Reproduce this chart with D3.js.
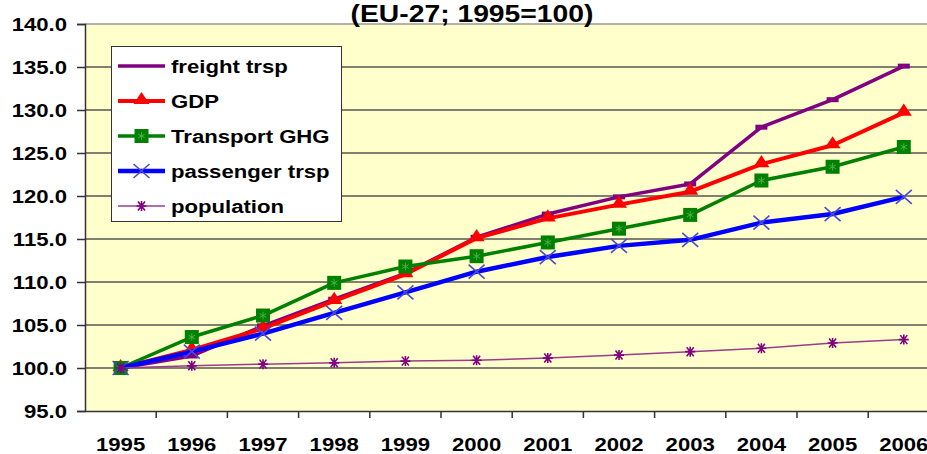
<!DOCTYPE html>
<html>
<head>
<meta charset="utf-8">
<script src="https://cdnjs.cloudflare.com/ajax/libs/d3/7.8.5/d3.min.js"></script>
<style>
	body { margin: 0; background: #fff; }
	text { font-family: 'Liberation Sans', Arial, sans-serif; font-weight: bold; fill: #000; }
</style>
</head>
<body>
<div id="chart"></div>
<script>
let years = ['1995', '1996', '1997', '1998', '1999', '2000', '2001', '2002', '2003', '2004', '2005', '2006'];
let freight = [100, 101.4, 104.9, 108.0, 111.0, 115.2, 117.9, 119.9, 121.4, 128.0, 131.2, 135.1];
let gdp = [100, 102.1, 104.6, 107.8, 110.9, 115.1, 117.4, 119.0, 120.5, 123.7, 125.9, 129.7];
let ghg = [100, 103.6, 106.1, 109.9, 111.8, 113.0, 114.6, 116.2, 117.8, 121.8, 123.4, 125.7];
let passenger = [100, 101.9, 104.0, 106.4, 108.8, 111.2, 112.9, 114.2, 114.9, 116.9, 117.9, 119.9];
let population = [100, 100.25, 100.45, 100.6, 100.8, 100.9, 101.15, 101.5, 101.9, 102.3, 102.9, 103.3];
let yTicks = [95, 100, 105, 110, 115, 120, 125, 130, 135, 140];
let title = '(EU-27; 1995=100)';

let width = 927,
	height = 454;
// the picture is stretched sideways, so text gets stretched too
let stretch = 1.23;

let series = [
	{ name: 'freight trsp', values: freight, color: '#800080', lineWidth: 3.5, marker: 'dash' },
	{ name: 'GDP', values: gdp, color: '#ff0000', lineWidth: 4, marker: 'triangle' },
	{ name: 'Transport GHG', values: ghg, color: '#008000', lineWidth: 3.5, marker: 'square' },
	{ name: 'passenger trsp', values: passenger, color: '#0000ff', lineWidth: 4.5, marker: 'cross' },
	{ name: 'population', values: population, color: '#9a3c8c', lineWidth: 1.5, marker: 'star' },
];

let svg = d3.select('#chart').append('svg').attr('width', width).attr('height', height);
svg.append('rect').attr('width', width).attr('height', height).attr('fill', '#fff');

let x = d3.scaleBand().domain(years).range([85, 85 + 12 * 71.2]).padding(0);
let y = d3.scaleLinear().domain([95, 140]).range([411, 24]);
let cx = (d) => x(d) + x.bandwidth() / 2;

function stretchedText(g, tx, ty, str, size, anchor) {
	return g
		.append('text')
		.attr('transform', 'translate(' + tx + ',' + ty + ') scale(' + stretch + ',1)')
		.attr('text-anchor', anchor)
		.style('font-size', size + 'px')
		.text(str);
}

function drawMarker(g, type, px, py, color) {
	if (type == 'triangle') {
		g.append('path')
			.attr('d', d3.symbol().type(d3.symbolTriangle).size(85)())
			.attr('transform', 'translate(' + px + ',' + (py - 1) + ') scale(1.15,1)')
			.attr('fill', color);
	} else if (type == 'square') {
		g.append('rect')
			.attr('x', px - 7)
			.attr('y', py - 7)
			.attr('width', 14)
			.attr('height', 14)
			.attr('fill', color);
		g.append('path')
			.attr('d', d3.symbol().type(d3.symbolAsterisk).size(40)())
			.attr('transform', 'translate(' + px + ',' + py + ')')
			.attr('stroke', '#4caf4c')
			.attr('stroke-width', 1)
			.attr('fill', 'none');
	} else if (type == 'cross') {
		g.append('path')
			.attr('d', 'M-8,-7L8,7M-8,7L8,-7')
			.attr('transform', 'translate(' + px + ',' + py + ')')
			.attr('stroke', '#4b4bd2')
			.attr('stroke-width', 1.6)
			.attr('fill', 'none');
	} else if (type == 'star') {
		g.append('path')
			.attr('d', 'M-5,0L5,0M-3.5,-4.5L3.5,4.5M-3.5,4.5L3.5,-4.5M0,-5L0,5')
			.attr('transform', 'translate(' + px + ',' + py + ')')
			.attr('stroke', '#800080')
			.attr('stroke-width', 1.6)
			.attr('fill', 'none');
	} else if (type == 'dash') {
		g.append('rect')
			.attr('x', px - 6)
			.attr('y', py - 2.5)
			.attr('width', 12)
			.attr('height', 5)
			.attr('fill', color);
	}
}

// plot area
svg.append('rect')
	.attr('x', 85)
	.attr('y', y(140))
	.attr('width', x.range()[1] - 85)
	.attr('height', y(95) - y(140))
	.attr('fill', '#ffffcc');

svg.selectAll('.grid')
	.data(yTicks.filter((d) => d > 95))
	.enter()
	.append('line')
	.attr('x1', 85)
	.attr('x2', x.range()[1])
	.attr('y1', (d) => y(d))
	.attr('y2', (d) => y(d))
	.attr('stroke', (d) => (d == 140 ? '#999' : '#555'))
	.attr('stroke-width', 1.5);

// axes
let yAxis = svg
	.append('g')
	.attr('transform', 'translate(85,0)')
	.call(d3.axisLeft(y).tickValues(yTicks).tickSize(8).tickFormat(''));
let xAxis = svg
	.append('g')
	.attr('transform', 'translate(0,411)')
	.call(d3.axisBottom(x).tickSize(0).tickFormat(''));
xAxis
	.selectAll('.bound')
	.data(years.slice(1))
	.enter()
	.append('line')
	.attr('x1', (d) => x(d))
	.attr('x2', (d) => x(d))
	.attr('y1', 0)
	.attr('y2', 7);
[yAxis, xAxis].forEach((a) => {
	a.selectAll('path, line').attr('stroke', '#333').attr('stroke-width', 1.5);
});

yTicks.forEach((t) => stretchedText(svg, 67, y(t) + 6.5, t.toFixed(1), 18, 'end'));
years.forEach((yr) => stretchedText(svg, cx(yr), 451, yr, 18, 'middle'));

stretchedText(svg, 472, 22, title, 23, 'middle');

// lines and markers
let line = d3
	.line()
	.x((d, i) => cx(years[i]))
	.y((d) => y(d));

series.forEach((s) => {
	let g = svg.append('g');
	g.append('path')
		.datum(s.values)
		.attr('d', line)
		.attr('fill', 'none')
		.attr('stroke', s.color)
		.attr('stroke-width', s.lineWidth)
		.attr('stroke-linejoin', 'round');
	s.values.forEach((v, i) => drawMarker(g, s.marker, cx(years[i]), y(v), s.color));
});

// legend
let legend = svg.append('g');
legend
	.append('rect')
	.attr('x', 111.5)
	.attr('y', 46.5)
	.attr('width', 230)
	.attr('height', 175)
	.attr('fill', '#fff')
	.attr('stroke', '#333')
	.attr('stroke-width', 1);

let rowY = d3.scalePoint().domain(series.map((s) => s.name)).range([66, 206]);
series.forEach((s) => {
	let ly = rowY(s.name);
	legend
		.append('line')
		.attr('x1', 118)
		.attr('x2', 165)
		.attr('y1', ly)
		.attr('y2', ly)
		.attr('stroke', s.color)
		.attr('stroke-width', s.lineWidth);
	if (s.marker != 'dash') drawMarker(legend, s.marker, 141.5, ly, s.color);
	stretchedText(legend, 171, ly + 6.5, s.name, 18, 'start');
});
</script>
</body>
</html>
